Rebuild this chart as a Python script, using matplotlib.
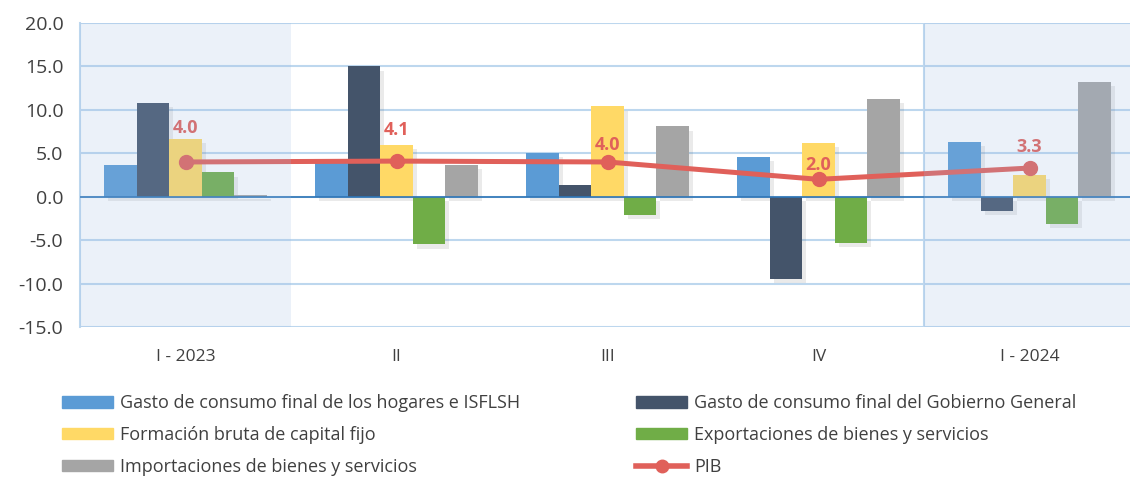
import matplotlib
matplotlib.use("Agg")
import matplotlib.pyplot as plt
import matplotlib.patheffects as pe
from matplotlib.patches import Patch
from matplotlib.lines import Line2D
import numpy as np

plt.rcParams['font.family'] = ['Open Sans', 'DejaVu Sans']

# datos
trimestres = ['I - 2023', 'II', 'III', 'IV', 'I - 2024']
hogares = [3.6, 3.9, 5.0, 4.6, 6.3]
gobierno = [10.8, 15.0, 1.3, -9.5, -1.6]
fbkf = [6.7, 6.0, 10.4, 6.2, 2.5]
exportaciones = [2.8, -5.5, -2.1, -5.3, -3.1]
importaciones = [0.2, 3.7, 8.1, 11.3, 13.2]
pib = [4.0, 4.1, 4.0, 2.0, 3.3]

series = [
    ('Gasto de consumo final de los hogares e ISFLSH', hogares, '#5B9BD5'),
    ('Gasto de consumo final del Gobierno General', gobierno, '#44546A'),
    ('Formación bruta de capital fijo', fbkf, '#FFD966'),
    ('Exportaciones de bienes y servicios', exportaciones, '#70AD47'),
    ('Importaciones de bienes y servicios', importaciones, '#A5A5A5'),
]
rojo = '#E0605A'
label_offsets = [18, 16, 6, 4, 9]

fig = plt.figure(figsize=(11.3, 4.79), dpi=100)
ax = fig.add_axes([80 / 1130, 152 / 479, 1055 / 1130, 304 / 479])

x = np.arange(len(trimestres))
w = 0.154
sombra = [pe.SimplePatchShadow(offset=(3, -3), alpha=0.12, shadow_rgbFace='#555555'), pe.Normal()]
for k, (nombre, vals, col) in enumerate(series):
    ax.bar(x + (k - 2) * w, vals, width=w, color=col, zorder=3, path_effects=sombra)

ax.plot(x, pib, color=rojo, lw=3.6, marker='o', ms=10, zorder=5)
for xi, v, off in zip(x, pib, label_offsets):
    ax.annotate(f'{v:.1f}', (xi, v), xytext=(0, off), textcoords='offset points',
                ha='center', va='bottom', color=rojo, fontsize=13, fontweight='bold', zorder=6)

# franjas sombreadas (encima, semitransparentes)
for a, b in [(-0.5, 0.5), (3.5, 4.5)]:
    ax.axvspan(a, b, color='#9CBCE4', alpha=0.2, zorder=7, lw=0)
ax.axvline(3.5, color='#BDD7EE', lw=1.5, zorder=2)

ax.set_xlim(-0.5, 4.5)
ax.set_ylim(-15, 20)
ax.set_yticks(np.arange(-15, 20.1, 5))
ax.set_yticklabels([f'{t:.1f}' for t in np.arange(-15, 20.1, 5)])
ax.set_xticks(x)
ax.set_xticklabels(trimestres)
ax.yaxis.grid(True, color='#BDD7EE', lw=1.5, zorder=1)
ax.set_axisbelow(True)
ax.axhline(0, color='#2E75B6', lw=1.2, zorder=4)
for s in ['top', 'right', 'bottom']:
    ax.spines[s].set_visible(False)
ax.spines['left'].set_color('#BDD7EE')
ax.spines['left'].set_linewidth(1.5)
ax.tick_params(axis='both', length=0, colors='#404040')
ax.tick_params(axis='y', labelsize=14, pad=12)
ax.tick_params(axis='x', labelsize=12.5, pad=16)

# leyenda en dos columnas
h = [Patch(color=c) for _, _, c in series]
n = [s[0] for s in series]
pib_h = Line2D([], [], color=rojo, lw=4, marker='o', ms=9)
kw = dict(frameon=False, fontsize=13, handlelength=2.8, handleheight=0.6,
          handletextpad=0.4, labelspacing=0.76, loc='upper left', labelcolor='#404040')
fig.legend([h[0], h[2], h[4]], [n[0], n[2], n[4]], bbox_to_anchor=(46 / 1130, 1 - 378 / 479), **kw)
fig.legend([h[1], h[3], pib_h], [n[1], n[3], 'PIB'], bbox_to_anchor=(620 / 1130, 1 - 378 / 479), **kw)

fig.savefig('out.png', dpi=100)
